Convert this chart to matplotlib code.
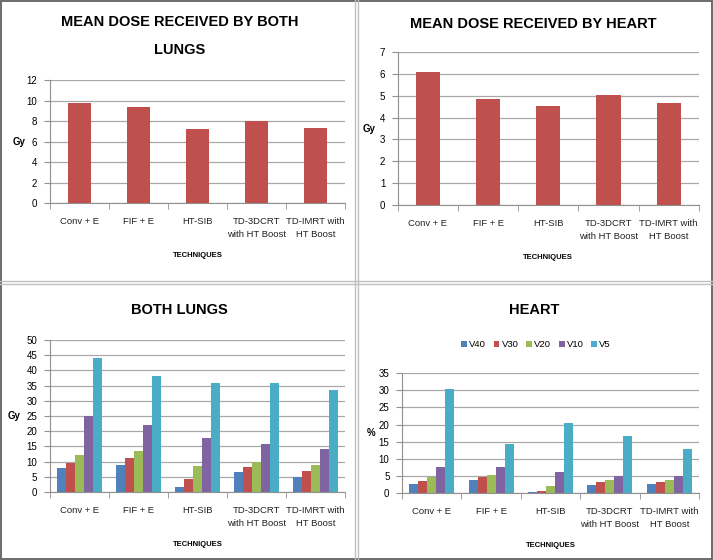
import numpy as np
import matplotlib
matplotlib.use("Agg")
import matplotlib.pyplot as plt

techniques = ["Conv + E", "FIF + E", "HT-SIB", "TD-3DCRT\nwith HT Boost", "TD-IMRT with\nHT Boost"]
series = ["V40", "V30", "V20", "V10", "V5"]

lung_mean = [9.75, 9.35, 7.2, 8.05, 7.3]
heart_mean = [6.07, 4.83, 4.55, 5.05, 4.68]

lung_v = {
    "V40": [7.9, 8.8, 1.5, 6.5, 5.1],
    "V30": [9.5, 11.2, 4.2, 8.1, 6.9],
    "V20": [12.3, 13.4, 8.5, 10.0, 8.8],
    "V10": [25.0, 22.1, 17.8, 15.8, 14.2],
    "V5": [44.2, 38.3, 36.0, 35.7, 33.7],
}
heart_v = {
    "V40": [2.7, 3.8, 0.3, 2.4, 2.6],
    "V30": [3.4, 4.6, 0.6, 3.1, 3.1],
    "V20": [4.7, 5.4, 2.0, 3.8, 3.7],
    "V10": [7.5, 7.5, 6.1, 5.1, 5.1],
    "V5": [30.5, 14.4, 20.5, 16.7, 13.0],
}

colors = ["#4F81BD", "#C0504D", "#9BBB59", "#8064A2", "#4BACC6"]

plt.rcParams["font.family"] = ["Liberation Sans", "DejaVu Sans"]

fig = plt.figure(figsize=(7.13, 5.60), dpi=100)

# panel frames
for x in [0.4985, 0.5025]:
    fig.add_artist(plt.Line2D([x, x], [0, 1], color="#c0c0c0", lw=1.0))
for y in [0.4975, 0.4935]:
    fig.add_artist(plt.Line2D([0, 1], [y, y], color="#c0c0c0", lw=1.0))
fig.add_artist(plt.Rectangle((0.002, 0.002), 0.996, 0.996, fill=False,
                             edgecolor="#606060", lw=1.3))

TITLE = dict(ha="center", va="center", fontsize=10.5, fontweight="bold")


def style_axes(ax, ymax, step, ylabel, lx):
    n = len(techniques)
    ax.set_xlim(-0.5, n - 0.5)
    ax.set_ylim(0, ymax)
    ax.set_yticks(np.arange(0, ymax + 0.01, step))
    ax.yaxis.grid(True, color="#a8a8a8", lw=0.9)
    ax.set_axisbelow(True)
    for s in ["top", "right"]:
        ax.spines[s].set_visible(False)
    ax.spines["left"].set_color("#909090")
    ax.spines["bottom"].set_color("#909090")
    ax.set_xticks(np.arange(n))
    ax.set_xticklabels(techniques, fontsize=6.8, color="#222222", linespacing=1.6)
    ax.set_xticks(np.arange(-0.5, n, 1), minor=True)
    ax.tick_params(axis="x", which="major", length=0, pad=10)
    ax.tick_params(axis="x", which="minor", length=4, color="#909090", direction="out")
    ax.tick_params(axis="y", length=4, color="#909090", labelsize=7, pad=5)
    ax.set_ylabel(ylabel, fontsize=7, fontweight="bold", rotation=0, va="center", ha="center")
    ax.yaxis.set_label_coords(lx, 0.5)
    ax.set_xlabel("TECHNIQUES", fontsize=5.5, fontweight="bold", labelpad=9)


x = np.arange(len(techniques))

ax1 = fig.add_axes([0.070, 0.6375, 0.414, 0.2196])
ax1.bar(x, lung_mean, width=0.4, color="#C0504D")
style_axes(ax1, 12, 2, "Gy", -0.105)
fig.text(0.252, 0.960, "MEAN DOSE RECEIVED BY BOTH", **TITLE)
fig.text(0.252, 0.910, "LUNGS", **TITLE)

ax2 = fig.add_axes([0.558, 0.634, 0.422, 0.273])
ax2.bar(x, heart_mean, width=0.4, color="#C0504D")
style_axes(ax2, 7, 1, "Gy", -0.097)
fig.text(0.748, 0.958, "MEAN DOSE RECEIVED BY HEART", **TITLE)

bw = 0.152
ax3 = fig.add_axes([0.070, 0.1214, 0.414, 0.2714])
for i, s in enumerate(series):
    ax3.bar(x + (i - 2) * bw, lung_v[s], width=bw, color=colors[i], label=s)
style_axes(ax3, 50, 5, "Gy", -0.12)
fig.text(0.252, 0.446, "BOTH LUNGS", **TITLE)

ax4 = fig.add_axes([0.5638, 0.1196, 0.4166, 0.214])
for i, s in enumerate(series):
    ax4.bar(x + (i - 2) * bw, heart_v[s], width=bw, color=colors[i], label=s)
style_axes(ax4, 35, 5, "%", -0.105)
fig.text(0.749, 0.446, "HEART", **TITLE)
ax4.legend(loc="center", bbox_to_anchor=(0.752, 0.384), bbox_transform=fig.transFigure,
           ncol=5, frameon=False, fontsize=6.8, handlelength=0.6, handleheight=0.6,
           handletextpad=0.25, columnspacing=0.8)

fig.savefig("out.png", dpi=100)
